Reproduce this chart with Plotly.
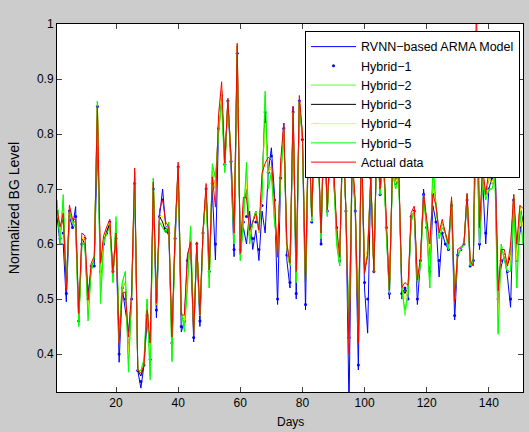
import plotly.graph_objects as go

# values (days 1..151)
actual = [0.662, 0.631, 0.656, 0.516, 0.671, 0.645, 0.645, 0.474, 0.62, 0.615,
          0.498, 0.565, 0.578, 0.85, 0.565, 0.615, 0.631, 0.645, 0.547, 0.62,
          0.42, 0.51, 0.513, 0.431, 0.51, 0.738, 0.371, 0.365, 0.38, 0.48,
          0.42, 0.713, 0.492, 0.662, 0.68, 0.64, 0.631, 0.431, 0.62, 0.749,
          0.471, 0.471, 0.58, 0.604, 0.434, 0.604, 0.471, 0.625, 0.71, 0.553,
          0.722, 0.667, 0.835, 0.895, 0.747, 0.865, 0.758, 0.62, 0.965, 0.583,
          0.685, 0.685, 0.625, 0.64, 0.655, 0.625, 0.729, 0.747, 0.758, 0.752,
          0.68, 0.576, 0.752, 0.82, 0.6, 0.565, 0.85, 0.55, 0.87, 0.8,
          0.53, 0.83, 0.65, 0.86, 0.79, 0.62, 0.84, 0.662, 0.8, 0.75,
          0.631, 0.576, 0.82, 0.662, 0.40, 0.76, 0.68, 0.42, 0.8, 0.547,
          0.58, 0.722, 0.547, 0.82, 0.7, 0.78, 0.631, 0.516, 0.747, 0.719,
          0.742, 0.521, 0.53, 0.525, 0.657, 0.669, 0.535, 0.575, 0.69, 0.645,
          0.6, 0.69, 0.67, 0.62, 0.645, 0.62, 0.6, 0.686, 0.495, 0.59,
          0.595, 0.6, 0.692, 0.57, 0.56, 1.05, 0.63, 0.74, 0.69, 0.735,
          0.72, 0.745, 0.515, 0.59, 0.59, 0.56, 0.6, 0.69, 0.6, 0.67, 0.665]

rvnn = [0.65, 0.6, 0.6, 0.495, 0.65, 0.63, 0.668, 0.46, 0.6, 0.6,
        0.51, 0.555, 0.56, 0.78, 0.555, 0.6, 0.625, 0.635, 0.55, 0.61,
        0.385, 0.52, 0.48, 0.44, 0.5, 0.71, 0.37, 0.338, 0.38, 0.46,
        0.41, 0.695, 0.466, 0.65, 0.7, 0.63, 0.615, 0.43, 0.6, 0.735,
        0.44, 0.46, 0.58, 0.6, 0.422, 0.6, 0.45, 0.62, 0.7, 0.55,
        0.7, 0.571, 0.81, 0.87, 0.745, 0.86, 0.74, 0.577, 0.947, 0.585,
        0.63, 0.6, 0.66, 0.59, 0.625, 0.57, 0.66, 0.62, 0.73, 0.775,
        0.69, 0.49, 0.72, 0.82, 0.57, 0.52, 0.85, 0.5, 0.86, 0.79,
        0.48, 0.82, 0.64, 0.84, 0.8, 0.6, 0.83, 0.66, 0.78, 0.72,
        0.63, 0.565, 0.8, 0.66, 0.3, 0.75, 0.66, 0.371, 0.79, 0.518,
        0.438, 0.72, 0.55, 0.8, 0.69, 0.77, 0.63, 0.5, 0.74, 0.71,
        0.735, 0.5, 0.52, 0.5, 0.65, 0.66, 0.49, 0.57, 0.7, 0.63,
        0.54, 0.67, 0.64, 0.54, 0.62, 0.6, 0.59, 0.67, 0.462, 0.58,
        0.59, 0.6, 0.68, 0.56, 0.57, 0.85, 0.59, 0.72, 0.6, 0.7,
        0.72, 0.758, 0.52, 0.56, 0.58, 0.54, 0.485, 0.68, 0.57, 0.62, 0.64]

hybrid1 = [0.66, 0.61, 0.62, 0.51, 0.66, 0.63, 0.65, 0.46, 0.6, 0.61,
           0.5, 0.56, 0.56, 0.85, 0.55, 0.6, 0.62, 0.64, 0.55, 0.61,
           0.4, 0.52, 0.5, 0.42, 0.5, 0.71, 0.37, 0.35, 0.38, 0.47,
           0.39, 0.7, 0.48, 0.65, 0.68, 0.63, 0.62, 0.42, 0.61, 0.74,
           0.45, 0.46, 0.57, 0.6, 0.43, 0.6, 0.46, 0.62, 0.7, 0.55,
           0.71, 0.6, 0.81, 0.87, 0.745, 0.86, 0.75, 0.59, 0.947, 0.59,
           0.64, 0.65, 0.63, 0.61, 0.64, 0.59, 0.67, 0.84, 0.73, 0.76,
           0.68, 0.5, 0.72, 0.81, 0.58, 0.53, 0.84, 0.51, 0.86, 0.79,
           0.49, 0.82, 0.64, 0.84, 0.8, 0.6, 0.83, 0.66, 0.78, 0.73,
           0.63, 0.57, 0.8, 0.66, 0.43, 0.75, 0.66, 0.38, 0.79, 0.53,
           0.5, 0.72, 0.55, 0.8, 0.69, 0.77, 0.63, 0.51, 0.74, 0.71,
           0.73, 0.51, 0.52, 0.5, 0.65, 0.66, 0.5, 0.57, 0.69, 0.63,
           0.55, 0.69, 0.64, 0.57, 0.62, 0.6, 0.59, 0.67, 0.47, 0.58,
           0.59, 0.6, 0.68, 0.56, 0.57, 0.87, 0.6, 0.72, 0.62, 0.7,
           0.72, 0.75, 0.5, 0.57, 0.58, 0.55, 0.5, 0.68, 0.57, 0.63, 0.64]

hybrid2 = [0.68, 0.61, 0.68, 0.53, 0.66, 0.64, 0.63, 0.45, 0.6, 0.6,
           0.47, 0.55, 0.575, 0.86, 0.5, 0.6, 0.62, 0.63, 0.53, 0.64,
           0.43, 0.53, 0.55, 0.38, 0.5, 0.72, 0.37, 0.37, 0.39, 0.5,
           0.36, 0.72, 0.5, 0.64, 0.63, 0.62, 0.64, 0.39, 0.62, 0.74,
           0.48, 0.45, 0.53, 0.63, 0.44, 0.6, 0.47, 0.62, 0.7, 0.52,
           0.74, 0.72, 0.8, 0.86, 0.73, 0.86, 0.76, 0.6, 0.95, 0.57,
           0.64, 0.74, 0.6, 0.64, 0.66, 0.63, 0.69, 0.87, 0.7, 0.73,
           0.64, 0.6, 0.72, 0.8, 0.6, 0.56, 0.83, 0.53, 0.86, 0.79,
           0.53, 0.82, 0.64, 0.85, 0.78, 0.61, 0.83, 0.65, 0.79, 0.74,
           0.6, 0.56, 0.81, 0.66, 0.44, 0.75, 0.67, 0.45, 0.79, 0.55,
           0.58, 0.72, 0.55, 0.81, 0.69, 0.77, 0.62, 0.51, 0.73, 0.7,
           0.72, 0.52, 0.47, 0.51, 0.64, 0.66, 0.53, 0.56, 0.68, 0.63,
           0.52, 0.75, 0.67, 0.61, 0.63, 0.62, 0.59, 0.68, 0.5, 0.58,
           0.59, 0.6, 0.69, 0.56, 0.57, 0.9, 0.6, 0.72, 0.68, 0.7,
           0.7, 0.72, 0.44, 0.6, 0.57, 0.55, 0.55, 0.68, 0.52, 0.66, 0.6]

hybrid3 = [0.67, 0.62, 0.65, 0.52, 0.66, 0.64, 0.64, 0.46, 0.61, 0.6,
           0.48, 0.56, 0.57, 0.85, 0.54, 0.61, 0.62, 0.64, 0.54, 0.63,
           0.42, 0.52, 0.53, 0.4, 0.5, 0.73, 0.37, 0.36, 0.38, 0.49,
           0.39, 0.71, 0.49, 0.65, 0.64, 0.62, 0.63, 0.41, 0.62, 0.74,
           0.47, 0.46, 0.55, 0.61, 0.44, 0.6, 0.47, 0.62, 0.7, 0.54,
           0.73, 0.7, 0.82, 0.88, 0.74, 0.86, 0.76, 0.61, 0.96, 0.58,
           0.67, 0.7, 0.61, 0.64, 0.66, 0.62, 0.71, 0.84, 0.73, 0.74,
           0.66, 0.58, 0.74, 0.81, 0.59, 0.56, 0.84, 0.54, 0.86, 0.8,
           0.53, 0.82, 0.65, 0.85, 0.79, 0.62, 0.83, 0.66, 0.79, 0.74,
           0.62, 0.57, 0.81, 0.66, 0.42, 0.75, 0.67, 0.43, 0.79, 0.55,
           0.59, 0.72, 0.55, 0.81, 0.7, 0.77, 0.63, 0.52, 0.74, 0.71,
           0.73, 0.52, 0.51, 0.52, 0.65, 0.66, 0.53, 0.57, 0.69, 0.64,
           0.57, 0.72, 0.67, 0.62, 0.64, 0.62, 0.6, 0.68, 0.5, 0.59,
           0.59, 0.6, 0.69, 0.57, 0.56, 0.92, 0.62, 0.73, 0.69, 0.72,
           0.71, 0.73, 0.48, 0.59, 0.58, 0.56, 0.58, 0.69, 0.58, 0.67, 0.64]

hybrid4 = [0.67, 0.62, 0.66, 0.52, 0.66, 0.64, 0.64, 0.46, 0.61, 0.61,
           0.48, 0.56, 0.58, 0.85, 0.54, 0.61, 0.63, 0.64, 0.54, 0.63,
           0.42, 0.52, 0.53, 0.4, 0.51, 0.73, 0.37, 0.37, 0.38, 0.49,
           0.39, 0.71, 0.49, 0.65, 0.65, 0.63, 0.63, 0.41, 0.62, 0.74,
           0.47, 0.46, 0.55, 0.61, 0.44, 0.6, 0.47, 0.62, 0.7, 0.54,
           0.73, 0.7, 0.82, 0.88, 0.74, 0.86, 0.76, 0.61, 0.96, 0.58,
           0.67, 0.71, 0.61, 0.64, 0.66, 0.62, 0.71, 0.82, 0.73, 0.74,
           0.66, 0.58, 0.74, 0.81, 0.59, 0.56, 0.84, 0.54, 0.86, 0.8,
           0.53, 0.82, 0.65, 0.85, 0.79, 0.62, 0.83, 0.66, 0.79, 0.74,
           0.62, 0.57, 0.81, 0.66, 0.42, 0.75, 0.67, 0.43, 0.79, 0.56,
           0.59, 0.72, 0.55, 0.81, 0.7, 0.77, 0.63, 0.52, 0.74, 0.71,
           0.73, 0.52, 0.5, 0.52, 0.65, 0.66, 0.53, 0.57, 0.69, 0.64,
           0.56, 0.72, 0.67, 0.62, 0.64, 0.62, 0.6, 0.68, 0.5, 0.59,
           0.59, 0.6, 0.69, 0.57, 0.56, 0.91, 0.62, 0.73, 0.69, 0.72,
           0.71, 0.73, 0.47, 0.59, 0.58, 0.56, 0.57, 0.69, 0.57, 0.67, 0.63]

hybrid5 = [0.68, 0.6, 0.69, 0.53, 0.66, 0.64, 0.63, 0.45, 0.6, 0.6,
           0.46, 0.55, 0.575, 0.86, 0.492, 0.6, 0.62, 0.63, 0.53, 0.65,
           0.43, 0.53, 0.55, 0.367, 0.5, 0.72, 0.37, 0.37, 0.39, 0.5,
           0.353, 0.72, 0.5, 0.64, 0.63, 0.62, 0.64, 0.386, 0.62, 0.74,
           0.48, 0.44, 0.52, 0.633, 0.44, 0.6, 0.47, 0.62, 0.7, 0.52,
           0.746, 0.72, 0.8, 0.86, 0.73, 0.86, 0.76, 0.6, 0.95, 0.57,
           0.64, 0.749, 0.6, 0.64, 0.66, 0.63, 0.68, 0.878, 0.7, 0.73,
           0.64, 0.6, 0.72, 0.8, 0.6, 0.56, 0.83, 0.53, 0.86, 0.79,
           0.53, 0.82, 0.64, 0.85, 0.78, 0.61, 0.83, 0.65, 0.79, 0.74,
           0.6, 0.56, 0.81, 0.66, 0.44, 0.75, 0.67, 0.45, 0.79, 0.55,
           0.58, 0.72, 0.55, 0.81, 0.69, 0.77, 0.62, 0.51, 0.73, 0.7,
           0.72, 0.52, 0.48, 0.51, 0.64, 0.66, 0.53, 0.56, 0.68, 0.63,
           0.52, 0.75, 0.67, 0.61, 0.63, 0.62, 0.59, 0.68, 0.5, 0.58,
           0.59, 0.6, 0.69, 0.56, 0.57, 0.9, 0.6, 0.72, 0.68, 0.7,
           0.7, 0.72, 0.436, 0.6, 0.57, 0.55, 0.55, 0.68, 0.52, 0.66, 0.6]

xticks = [20, 40, 60, 80, 100, 120, 140]
yticks = [0.4, 0.5, 0.6, 0.7, 0.8, 0.9, 1.0]
yticktext = ["0.4", "0.5", "0.6", "0.7", "0.8", "0.9", "1"]

series = [
    ("RVNN\u2212based ARMA Model", rvnn, "#0000ff", "lines"),
    ("Hybrid\u22121", hybrid1, "#0000ff", "markers"),
    ("Hybrid\u22122", hybrid2, "#55ff33", "lines"),
    ("Hybrid\u22123", hybrid3, "#000000", "lines"),
    ("Hybrid\u22124", hybrid4, "#ffff00", "lines"),
    ("Hybrid\u22125", hybrid5, "#00ff00", "lines"),
    ("Actual data", actual, "#ff0000", "lines"),
]

fig = go.Figure()
for name, vals, color, mode in series:
    days = list(range(1, len(vals) + 1))
    if mode == "markers":
        fig.add_trace(go.Scatter(x=days, y=vals, mode="markers", name=name,
                                 marker=dict(color=color, size=3)))
    else:
        fig.add_trace(go.Scatter(x=days, y=vals, mode="lines", name=name,
                                 line=dict(color=color, width=1)))

font = "Liberation Sans, Arial, Helvetica, sans-serif"
fig.update_layout(
    width=529, height=432,
    paper_bgcolor="#cccccc", plot_bgcolor="#ffffff",
    margin=dict(l=57, r=6, t=24, b=40),
    font=dict(family=font, size=12, color="#000000"),
    showlegend=True,
    legend=dict(x=0.9936, y=0.981, xanchor="right", yanchor="top",
                bgcolor="#ffffff", bordercolor="#000000", borderwidth=1,
                font=dict(size=12.5), tracegroupgap=0, itemwidth=45),
    xaxis=dict(range=[1, 151], tickvals=xticks, ticks="inside", ticklen=5,
               showline=True, linecolor="#000000", mirror="ticks",
               showgrid=False, zeroline=False),
    yaxis=dict(range=[0.331, 1.0], tickvals=yticks, ticktext=yticktext,
               ticks="inside", ticklen=5,
               showline=True, linecolor="#000000", mirror="ticks",
               showgrid=False, zeroline=False,
               title=dict(text="Normalized BG Level", standoff=14)),
    annotations=[dict(text="Days", xref="paper", yref="paper", x=0.5, y=0,
                      xanchor="center", yanchor="top", yshift=-21,
                      showarrow=False, font=dict(size=12))],
)

fig.write_html("out.html", config={"displayModeBar": False},
               post_script="document.body.style.margin='0px';")
